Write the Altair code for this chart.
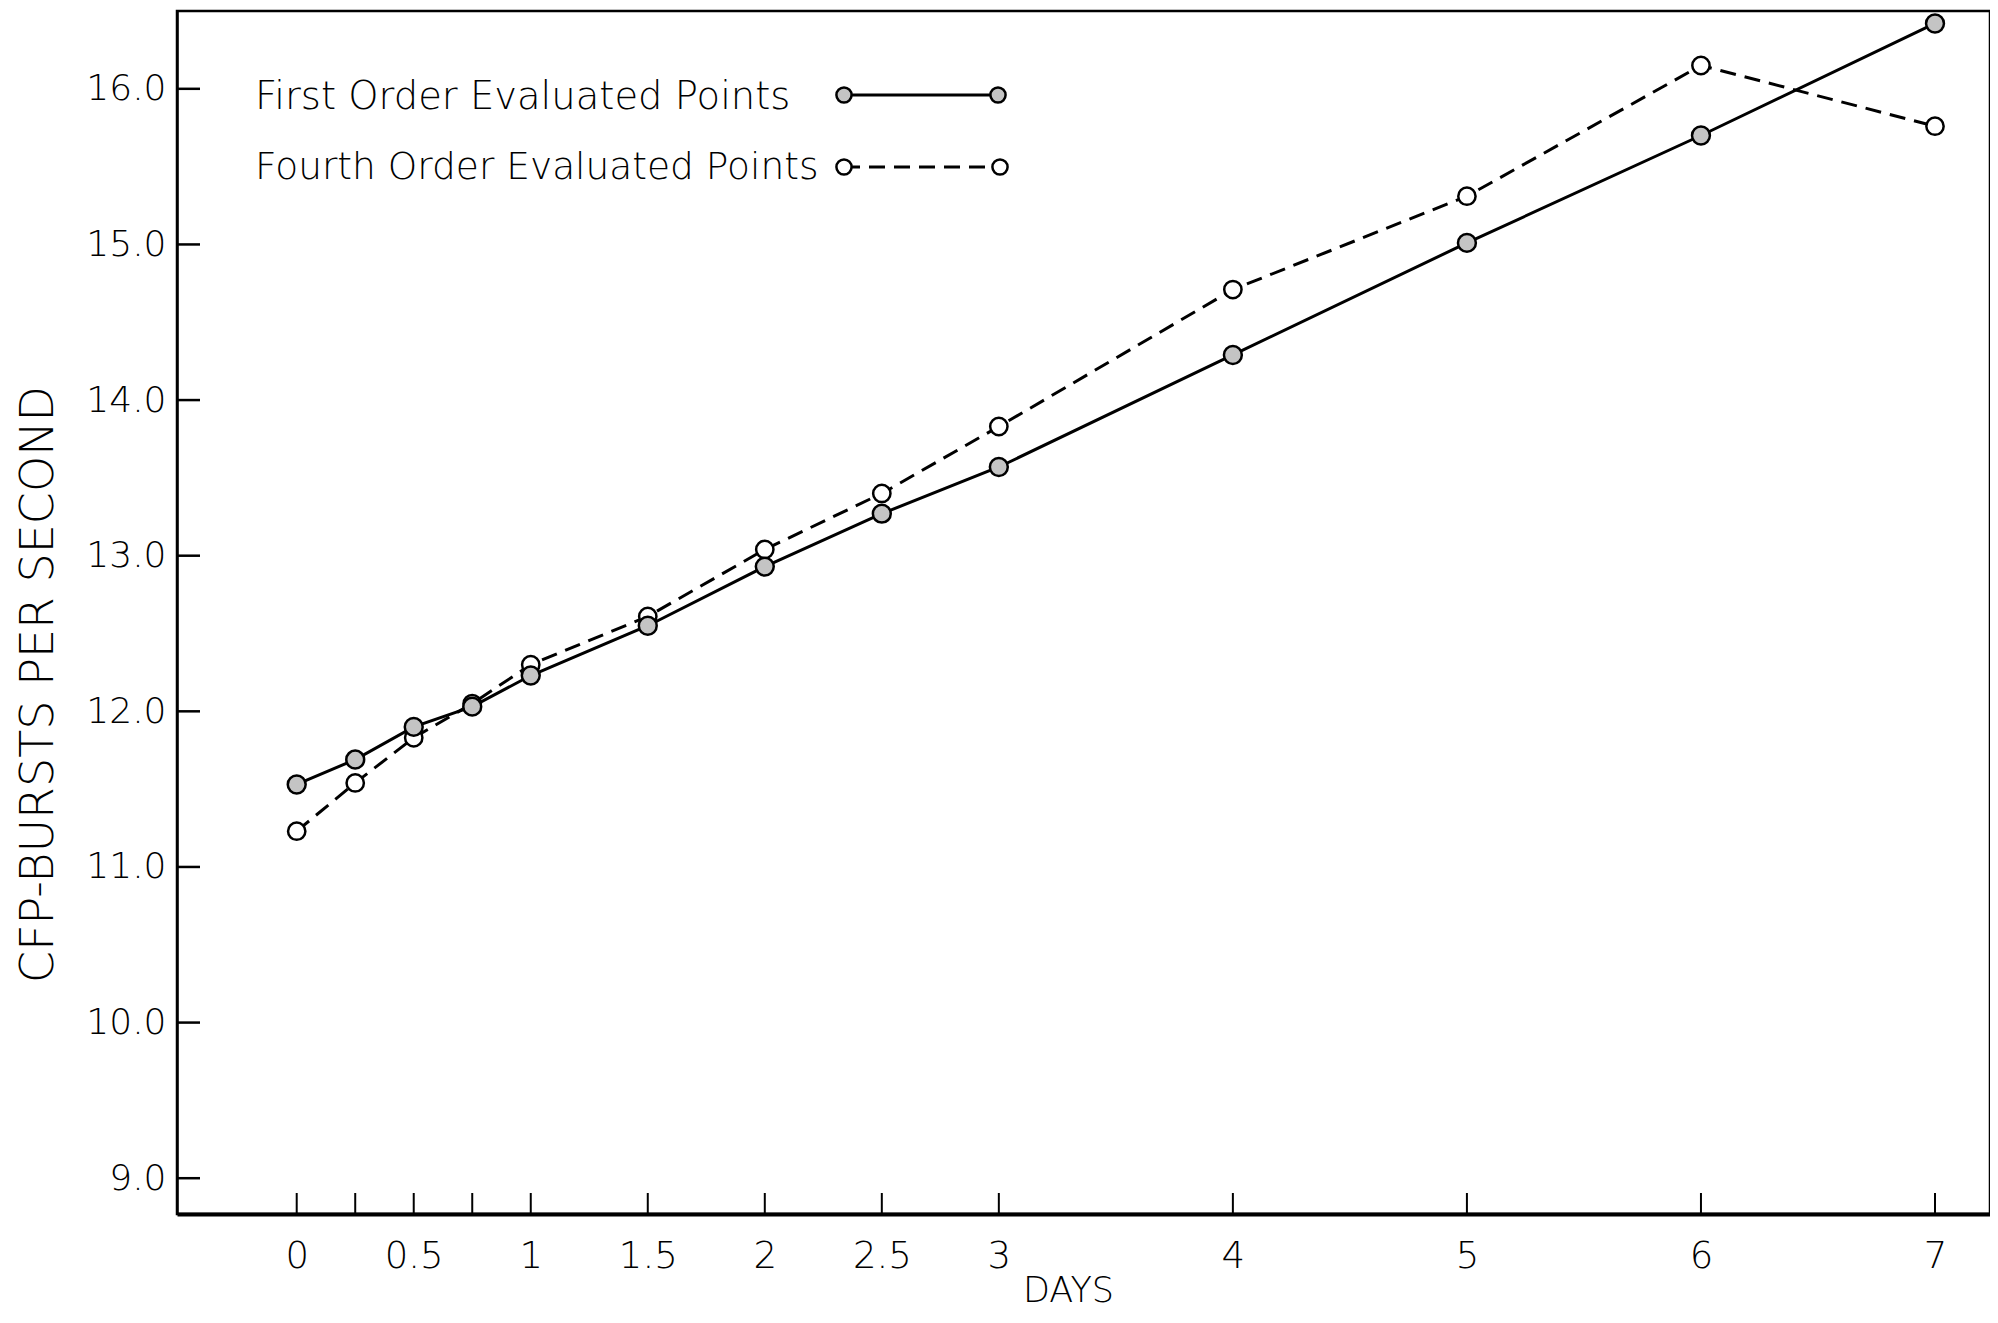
import altair as alt
import pandas as pd

# ---- data ----
days = [0, 0.25, 0.5, 0.75, 1, 1.5, 2, 2.5, 3, 4, 5, 6, 7]
first_order = [11.53, 11.69, 11.90, 12.03, 12.23, 12.55, 12.93, 13.27, 13.57, 14.29, 15.01, 15.70, 16.42]
fourth_order = [11.23, 11.54, 11.83, 12.05, 12.30, 12.61, 13.04, 13.40, 13.83, 14.71, 15.31, 16.15, 15.76]

series_names = ["First Order Evaluated Points", "Fourth Order Evaluated Points"]
x_label_values = [0, 0.5, 1, 1.5, 2, 2.5, 3, 4, 5, 6, 7]
x_tick_values = [0, 0.25, 0.5, 0.75, 1, 1.5, 2, 2.5, 3, 4, 5, 6, 7]
y_tick_values = [9, 10, 11, 12, 13, 14, 15, 16]

FONT = "DejaVu Sans"
W, H = 1813, 1203

df_first = pd.DataFrame({"day": days, "value": first_order, "series": series_names[0]})
df_fourth = pd.DataFrame({"day": days, "value": fourth_order, "series": series_names[1]})
df_xt = pd.DataFrame({"day": x_tick_values})
df_yt = pd.DataFrame({"value": y_tick_values})

xscale = alt.Scale(domain=[-0.5115, 7.235], nice=False, zero=False)
yscale = alt.Scale(domain=[8.77, 16.50], nice=False, zero=False)

X = alt.X("day:Q", scale=xscale,
          axis=alt.Axis(values=x_label_values, format="~g", title="DAYS",
                        labelFont=FONT, labelFontSize=37, labelFontWeight=200,
                        labelColor="black", labelPadding=24, ticks=False,
                        domain=True, domainColor="black", domainWidth=4,
                        grid=False, titleFont=FONT, titleFontSize=35,
                        titleFontWeight=200, titleColor="black",
                        titleX=891, titleY=87, titleBaseline="alphabetic",
                        titleAlign="center", labelFlush=False))
Y = alt.Y("value:Q", scale=yscale,
          axis=alt.Axis(values=y_tick_values, format=".1f",
                        title="CFP-BURSTS PER SECOND",
                        labelFont=FONT, labelFontSize=36, labelFontWeight=200,
                        labelColor="black", labelPadding=11, ticks=False,
                        domain=True, domainColor="black", domainWidth=2.5,
                        grid=False, titleFont=FONT, titleFontSize=46,
                        titleFontWeight=200, titleColor="black",
                        titleX=-139, titleY=673, titleAngle=-90,
                        titleBaseline="middle", titleAlign="center",
                        labelFlush=False))

line_first = alt.Chart(df_first).mark_line(color="black", strokeWidth=3).encode(x=X, y=Y)
line_fourth = alt.Chart(df_fourth).mark_line(color="black", strokeWidth=3,
                                              strokeDash=[16, 9]).encode(x="day:Q", y="value:Q")
pts_fourth = alt.Chart(df_fourth).mark_point(shape="circle", filled=True, fill="white",
                                             stroke="black", strokeWidth=2.5, size=300,
                                             opacity=1).encode(x="day:Q", y="value:Q")
pts_first = alt.Chart(df_first).mark_point(shape="circle", filled=True, fill="#c4c4c4",
                                           stroke="black", strokeWidth=2.5, size=320,
                                           opacity=1).encode(x="day:Q", y="value:Q")

# inward ticks
xticks = alt.Chart(df_xt).mark_rule(color="black", strokeWidth=2).encode(
    x="day:Q", y=alt.value(H), y2=alt.value(H - 21))
yticks = alt.Chart(df_yt).mark_rule(color="black", strokeWidth=2.5).encode(
    y="value:Q", x=alt.value(0), x2=alt.value(23))

# legend (drawn in the upper left of the plot)
df_leg1 = pd.DataFrame({"label": [series_names[0]]})
df_leg2 = pd.DataFrame({"label": [series_names[1]]})
leg_text1 = alt.Chart(df_leg1).mark_text(font=FONT, fontSize=38.5, fontWeight=200, align="left",
                                         baseline="middle", color="black").encode(
    text="label:N", x=alt.value(78), y=alt.value(86))
leg_text2 = alt.Chart(df_leg2).mark_text(font=FONT, fontSize=37.5, fontWeight=200, align="left",
                                         baseline="middle", color="black").encode(
    text="label:N", x=alt.value(78), y=alt.value(157))
leg_line1 = alt.Chart(df_leg1).mark_rule(color="black", strokeWidth=3).encode(
    x=alt.value(667), x2=alt.value(821), y=alt.value(84))
leg_line2 = alt.Chart(df_leg2).mark_rule(color="black", strokeWidth=3, strokeDash=[16, 9]).encode(
    x=alt.value(667), x2=alt.value(823), y=alt.value(156))
leg_pts1a = alt.Chart(df_leg1).mark_point(shape="circle", filled=True, fill="#c4c4c4", stroke="black",
                                          strokeWidth=2.5, size=230, opacity=1).encode(
    x=alt.value(667), y=alt.value(84))
leg_pts1b = alt.Chart(df_leg1).mark_point(shape="circle", filled=True, fill="#c4c4c4", stroke="black",
                                          strokeWidth=2.5, size=230, opacity=1).encode(
    x=alt.value(821), y=alt.value(84))
leg_pts2a = alt.Chart(df_leg2).mark_point(shape="circle", filled=True, fill="white", stroke="black",
                                          strokeWidth=2.5, size=230, opacity=1).encode(
    x=alt.value(667), y=alt.value(156))
leg_pts2b = alt.Chart(df_leg2).mark_point(shape="circle", filled=True, fill="white", stroke="black",
                                          strokeWidth=2.5, size=230, opacity=1).encode(
    x=alt.value(823), y=alt.value(156))

chart = alt.layer(
    line_first, line_fourth, xticks, yticks, pts_fourth, pts_first,
    leg_line1, leg_line2, leg_pts1a, leg_pts1b, leg_pts2a, leg_pts2b, leg_text1, leg_text2
).properties(
    width=W, height=H,
    autosize=alt.AutoSizeParams(type="none"),
    padding={"left": 169, "top": 3, "right": 0, "bottom": 98},
    background="white",
).configure_view(stroke="black", strokeWidth=2.5)

chart.save("out.html", embed_options={"renderer": "svg", "actions": False})
